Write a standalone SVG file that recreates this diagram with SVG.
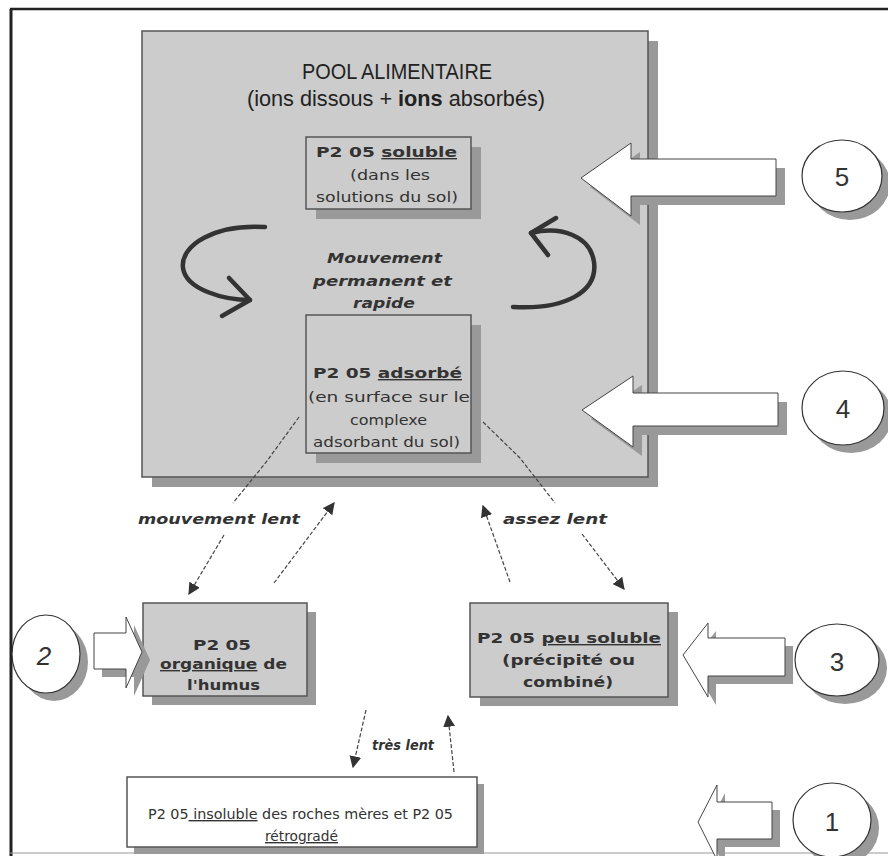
<svg xmlns="http://www.w3.org/2000/svg" width="888" height="856" viewBox="0 0 888 856">
<defs>
<style>
.box{fill:#cccccc;stroke:#555555;stroke-width:1.5}
.wbox{fill:#ffffff;stroke:#555555;stroke-width:1.5}
.shd{fill:#999999}
.barrow{fill:#ffffff;stroke:#444444;stroke-width:1}
.circ{fill:#ffffff;stroke:#333333;stroke-width:1.2}
.t{font-family:"DejaVu Sans","Liberation Sans",sans-serif;fill:#333333;font-size:14px}
.b{font-weight:bold}
.i{font-style:italic;font-weight:bold}
.title{font-family:"Liberation Sans","DejaVu Sans",sans-serif;fill:#222222;font-size:22px}
.num{font-family:"Liberation Sans","DejaVu Sans",sans-serif;fill:#333333;font-size:26px;text-anchor:middle}
.dash{fill:none;stroke:#444444;stroke-width:1.2;stroke-dasharray:4 2}
.curve{fill:none;stroke:#333333;stroke-width:4.5;stroke-linecap:round;stroke-linejoin:round}
.u{text-decoration:underline}
</style>
<marker id="ah" viewBox="0 0 10 10" refX="9" refY="5" markerWidth="12" markerHeight="12" markerUnits="userSpaceOnUse" orient="auto">
<path d="M0,0 L10,5 L0,10 z" fill="#333333"/>
</marker>
</defs>
<rect x="0" y="0" width="888" height="856" fill="#ffffff"/>
<g id="frame">
<line x1="10" y1="9" x2="888" y2="9" stroke="#222222" stroke-width="2.5"/>
<line x1="11" y1="9" x2="11" y2="856" stroke="#222222" stroke-width="3"/>
<line x1="10" y1="853" x2="888" y2="853" stroke="#999999" stroke-width="1"/>
</g>
<g id="pool">
<rect class="shd" x="152" y="41" width="506" height="446"/>
<rect class="box" x="142" y="31" width="506" height="446"/>
<text class="title" x="302" y="79" font-size="23" textLength="190" lengthAdjust="spacingAndGlyphs">POOL ALIMENTAIRE</text>
<text class="title" x="247" y="106" textLength="298" lengthAdjust="spacingAndGlyphs">(ions dissous + <tspan font-weight="bold">ions</tspan> absorbés)</text>
</g>
<g id="soluble">
<rect class="shd" x="316" y="147" width="165" height="72"/>
<rect class="box" x="306" y="137" width="165" height="72"/>
<text class="t b" x="316" y="157" textLength="141" lengthAdjust="spacingAndGlyphs">P2 05 <tspan class="u">soluble</tspan></text>
<text class="t" x="350" y="180" textLength="80" lengthAdjust="spacingAndGlyphs">(dans les</text>
<text class="t" x="316" y="202" textLength="142" lengthAdjust="spacingAndGlyphs">solutions du sol)</text>
</g>
<g id="cycle">
<path class="curve" d="M265,227 C215,224 180,245 183,268 C186,290 225,300 250,300"/>
<path class="curve" d="M229,278 L250,300 L222,316"/>
<path class="curve" d="M513,307 C565,310 598,292 594,262 C590,235 560,226 531,233"/>
<path class="curve" d="M556,218 L531,233 L548,255"/>
<text class="t i" x="327" y="263" textLength="115" lengthAdjust="spacingAndGlyphs">Mouvement</text>
<text class="t i" x="313" y="286" textLength="139" lengthAdjust="spacingAndGlyphs">permanent et</text>
<text class="t i" x="353" y="308" textLength="62" lengthAdjust="spacingAndGlyphs">rapide</text>
</g>
<g id="adsorbe">
<rect class="shd" x="316" y="325" width="165" height="138"/>
<rect class="box" x="306" y="315" width="165" height="138"/>
<text class="t b" x="313" y="378" textLength="149" lengthAdjust="spacingAndGlyphs">P2 05 <tspan class="u">adsorbé</tspan></text>
<text class="t" x="308" y="402" textLength="162" lengthAdjust="spacingAndGlyphs">(en surface sur le</text>
<text class="t" x="350" y="425" textLength="77" lengthAdjust="spacingAndGlyphs">complexe</text>
<text class="t" x="313" y="447" textLength="147" lengthAdjust="spacingAndGlyphs">adsorbant du sol)</text>
</g>
<g id="organique">
<rect class="shd" x="152" y="612" width="164" height="93"/>
<rect class="box" x="143" y="603" width="164" height="93"/>
<text class="t b" x="193" y="650" textLength="58" lengthAdjust="spacingAndGlyphs">P2 05</text>
<text class="t b" x="160" y="669" textLength="127" lengthAdjust="spacingAndGlyphs"><tspan class="u">organique</tspan> de</text>
<text class="t b" x="187" y="690" textLength="73" lengthAdjust="spacingAndGlyphs">l'humus</text>
</g>
<g id="peusoluble">
<rect class="shd" x="480" y="612" width="198" height="94"/>
<rect class="box" x="470" y="603" width="198" height="94"/>
<text class="t b" x="477" y="643" textLength="184" lengthAdjust="spacingAndGlyphs">P2 05 <tspan class="u">peu soluble</tspan></text>
<text class="t b" x="502" y="665" textLength="133" lengthAdjust="spacingAndGlyphs">(précipité ou</text>
<text class="t b" x="523" y="687" textLength="90" lengthAdjust="spacingAndGlyphs">combiné)</text>
</g>
<g id="insoluble">
<rect class="shd" x="134" y="784" width="350" height="70"/>
<rect class="wbox" x="127" y="777" width="350" height="70"/>
<text class="t" x="148" y="819" textLength="305" lengthAdjust="spacingAndGlyphs">P2 05<tspan class="u"> insoluble</tspan> des roches mères  et  P2 05</text>
<text class="t u" x="265" y="841" textLength="73" lengthAdjust="spacingAndGlyphs">rétrogradé</text>
</g>
<g id="connectors">
<polyline class="dash" points="299,417 267,461 233,503"/>
<line class="dash" x1="224" y1="535" x2="189" y2="594" marker-end="url(#ah)"/>
<line class="dash" x1="274" y1="583" x2="334" y2="503" marker-end="url(#ah)"/>
<polyline class="dash" points="483,422 520,458 555,503"/>
<line class="dash" x1="582" y1="534" x2="624" y2="589" marker-end="url(#ah)"/>
<line class="dash" x1="510" y1="582" x2="483" y2="506" marker-end="url(#ah)"/>
<line class="dash" x1="366" y1="710" x2="353" y2="767" marker-end="url(#ah)"/>
<line class="dash" x1="454" y1="772" x2="448" y2="716" marker-end="url(#ah)"/>
<text class="t i" x="138" y="524" textLength="162" lengthAdjust="spacingAndGlyphs">mouvement lent</text>
<text class="t i" x="503" y="524" textLength="104" lengthAdjust="spacingAndGlyphs">assez lent</text>
<text class="t i" x="372" y="750" textLength="62" lengthAdjust="spacingAndGlyphs">très lent</text>
</g>
<g id="input5">
<polygon class="shd" points="590,187 640,152 640,168 785,168 785,205 640,205 640,225"/>
<polygon class="barrow" points="581,178 631,143 631,159 776,159 776,196 631,196 631,216"/>
<ellipse class="shd" cx="850" cy="184" rx="40" ry="36"/>
<ellipse class="circ" cx="842" cy="176" rx="40" ry="36"/>
<text class="num" x="842" y="186">5</text>
</g>
<g id="input4">
<polygon class="shd" points="591,419 642,385 642,402 787,402 787,435 642,435 642,456"/>
<polygon class="barrow" points="582,410 633,376 633,393 778,393 778,426 633,426 633,447"/>
<ellipse class="shd" cx="851" cy="416" rx="41" ry="37"/>
<ellipse class="circ" cx="843" cy="408" rx="41" ry="37"/>
<text class="num" x="843" y="418">4</text>
</g>
<g id="input3">
<polygon class="shd" points="691,663 716,631 716,646 793,646 793,684 716,684 716,705"/>
<polygon class="barrow" points="683,655 708,623 708,638 785,638 785,676 708,676 708,697"/>
<ellipse class="shd" cx="845" cy="668" rx="42" ry="36"/>
<ellipse class="circ" cx="837" cy="660" rx="42" ry="36"/>
<text class="num" x="837" y="671" font-size="30">3</text>
</g>
<g id="input2">
<polygon class="shd" points="102,641 134,641 134,625 150,660 134,696 134,677 102,677"/>
<polygon class="barrow" points="94,633 126,633 126,617 142,652 126,688 126,669 94,669"/>
<ellipse class="shd" cx="54" cy="662" rx="34" ry="39"/>
<ellipse class="circ" cx="46" cy="654" rx="34" ry="39"/>
<text class="num" x="44" y="665" font-size="30" font-family="Liberation Serif, serif" font-style="italic">2</text>
</g>
<g id="input1">
<polygon class="shd" points="706,830 725,793 725,810 780,810 780,847 725,847 725,868"/>
<polygon class="barrow" points="698,822 717,785 717,802 772,802 772,839 717,839 717,860"/>
<ellipse class="shd" cx="840" cy="828" rx="39" ry="37"/>
<ellipse class="circ" cx="832" cy="820" rx="39" ry="37"/>
<text class="num" x="832" y="831" font-size="30">1</text>
</g>
</svg>
